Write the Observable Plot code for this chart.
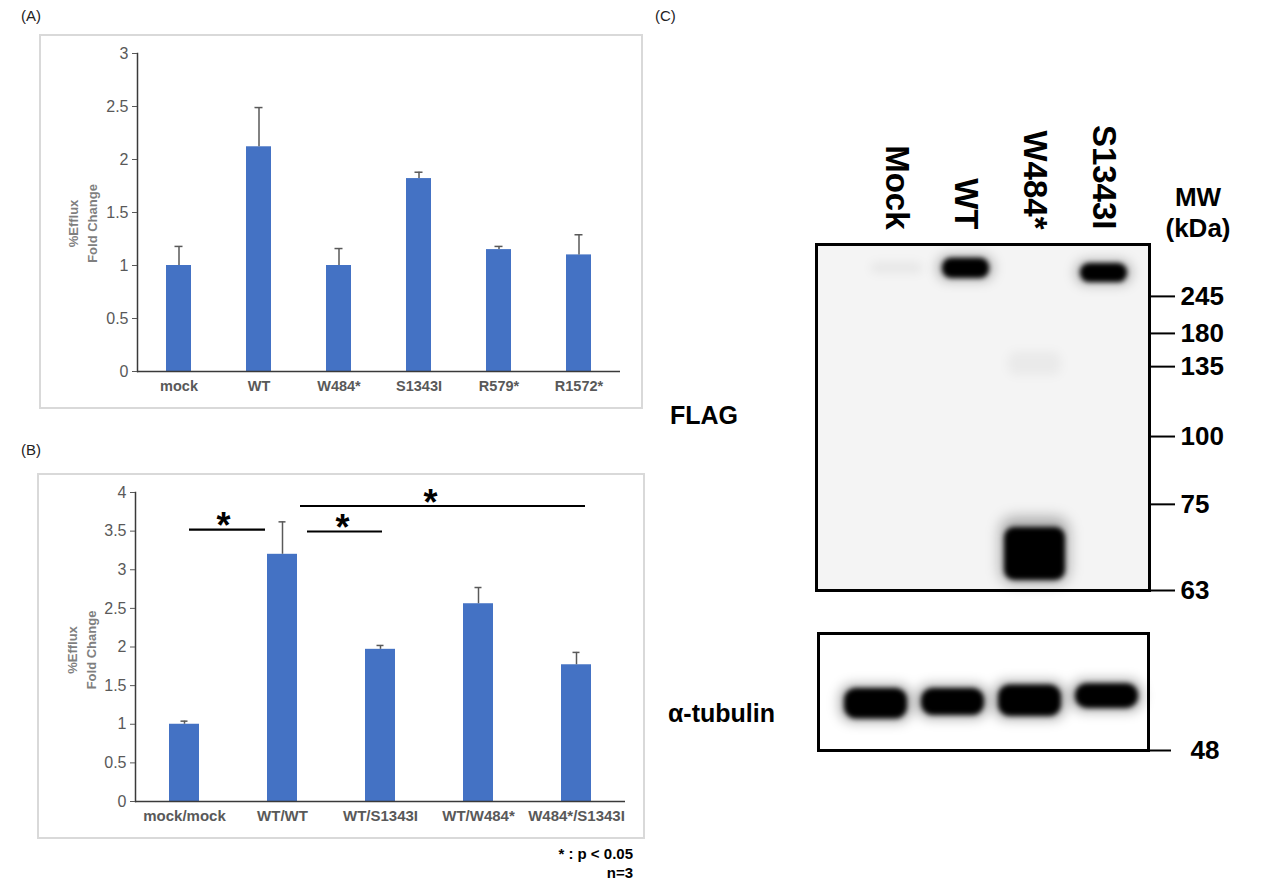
<!DOCTYPE html>
<html>
<head>
<meta charset="utf-8">
<script src="https://cdn.jsdelivr.net/npm/d3@7"></script>
<script src="https://cdn.jsdelivr.net/npm/@observablehq/plot@0.6"></script>
<style>
  body { margin: 0; background: #fff; font-family: "Liberation Sans", Arial, Helvetica, sans-serif; }
  #page { position: relative; width: 1287px; height: 886px; overflow: hidden; background: #fff; }
  .abs { position: absolute; }
  .box { position: absolute; border: 2px solid #d9d9d9; box-sizing: border-box; }
  .lbl { position: absolute; white-space: nowrap; line-height: 1; }
</style>
</head>
<body>
<div id="page">
  <div class="box" style="left:39px;top:34px;width:604px;height:375px"></div>
  <div class="box" style="left:37px;top:473px;width:608px;height:366px"></div>
  <div id="plotA" class="abs" style="left:40px;top:35px"></div>
  <div id="plotB" class="abs" style="left:39px;top:475px"></div>
  <div id="flag" class="abs" style="left:760px;top:100px"></div>
  <div id="tub" class="abs" style="left:760px;top:620px"></div>
</div>
<script>
// ---------- Data ----------
// Panel A
const mutantsA = ["mock", "WT", "W484*", "S1343I", "R579*", "R1572*"];
const effluxA  = [1.00, 2.12, 1.00, 1.82, 1.15, 1.10];
const errA     = [0.18, 0.37, 0.16, 0.06, 0.03, 0.19];
const yTicksA  = [0, 0.5, 1, 1.5, 2, 2.5, 3];

// Panel B
const pairsB  = ["mock/mock", "WT/WT", "WT/S1343I", "WT/W484*", "W484*/S1343I"];
const effluxB = [1.00, 3.20, 1.97, 2.56, 1.77];
const errB    = [0.04, 0.42, 0.05, 0.21, 0.16];
const yTicksB = [0, 0.5, 1, 1.5, 2, 2.5, 3, 3.5, 4];
const sigFrom  = ["mock/mock", "WT/WT", "WT/WT"];
const sigTo    = ["WT/WT", "WT/S1343I", "W484*/S1343I"];
const sigLevel = [3.52, 3.495, 3.825];

// Panel C (western blot): lanes, marker ladder (relative migration), bands
const lanes = ["Mock", "WT", "W484*", "S1343I"];
const markerKDa = [245, 180, 135, 100, 75, 63];
const markerRf  = [0.150, 0.257, 0.353, 0.555, 0.751, 1.0];
const flagLane    = ["WT", "S1343I", "W484*", "Mock", "W484*"];
const flagTop     = [0.040, 0.055, 0.818, 0.052, 0.310];
const flagBottom  = [0.098, 0.110, 0.971, 0.085, 0.380];
const flagDensity = [1, 1, 1, 0.05, 0.04];
const tubTop    = [0.47, 0.47, 0.44, 0.43];
const tubBottom = [0.73, 0.70, 0.71, 0.64];
const tubMarkerKDa = [48];
const tubMarkerRf  = [1.0];

// ---------- Styles ----------
const FONT = "'Liberation Sans', Arial, Helvetica, sans-serif";
const BAR = "#4472C4";
const AX = "#595959";
const yTitle = "%Efflux\nFold Change";

function effluxPanel({cats, vals, errs, yMax, yTicks, w, h, mL, mR, mT, mB, pad, capInset, titleDx, titleDy, xFont, extra = []}) {
  const rows = cats.map((c, i) => ({c, v: vals[i], top: vals[i] + errs[i]}));
  return Plot.plot({
    width: w, height: h, marginLeft: mL, marginRight: mR, marginTop: mT, marginBottom: mB,
    style: {fontFamily: FONT, background: "transparent", overflow: "visible"},
    x: {domain: cats, paddingInner: pad, paddingOuter: pad / 2, label: null},
    y: {domain: [0, yMax], label: null},
    marks: [
      Plot.barY(rows, {x: "c", y: "v", fill: BAR}),
      Plot.ruleX(rows, {x: "c", y1: "v", y2: "top", stroke: AX, strokeWidth: 1.5}),
      Plot.tickY(rows, {x: "c", y: "top", stroke: AX, strokeWidth: 1.5, insetLeft: capInset, insetRight: capInset}),
      Plot.ruleY([0], {stroke: "#3a3a3a", strokeWidth: 1.5}),
      Plot.frame({anchor: "left", stroke: "#3a3a3a", strokeWidth: 1.5}),
      Plot.axisY({ticks: yTicks, tickFormat: d => String(d), tickSize: 5, tickPadding: 4, fontSize: 16, color: AX, label: null}),
      Plot.axisX({tickSize: 0, tickPadding: 9, fontSize: xFont, fontWeight: "bold", color: AX, label: null}),
      Plot.text([yTitle], {frameAnchor: "left", textAnchor: "middle", lineAnchor: "middle", rotate: -90, dx: titleDx, dy: titleDy, lineHeight: 1.5, fontSize: 13, fontWeight: "bold", fill: "#7f7f7f"}),
      ...extra
    ]
  });
}

// Panel A
document.getElementById("plotA").appendChild(effluxPanel({
  cats: mutantsA, vals: effluxA, errs: errA, yMax: 3, yTicks: yTicksA,
  w: 602, h: 373, mL: 97, mR: 22, mT: 18, mB: 37, pad: 0.69, capInset: 8.5,
  titleDx: -56, titleDy: 11, xFont: 14.5
}));

// Panel B with significance brackets
const sigRows = sigFrom.map((a, i) => ({a, b: sigTo[i], y: sigLevel[i]}));
const sigTrim = [[20, 32], [40, 13], [33, 6]];
const starShift = [39, 60, 148];
const sigMarks = [
  ...sigRows.map((d, i) => Plot.ruleY([d], {x1: "a", x2: "b", y: "y", stroke: "#000", strokeWidth: 2.2, insetLeft: sigTrim[i][0], insetRight: sigTrim[i][1]})),
  ...sigRows.map((d, i) => Plot.text([d], {x: "a", y: "y", text: () => "*", dx: starShift[i], dy: -3, fontSize: 36, fontWeight: "bold", fill: "#000"}))
];
document.getElementById("plotB").appendChild(effluxPanel({
  cats: pairsB, vals: effluxB, errs: errB, yMax: 4, yTicks: yTicksB,
  w: 604, h: 362, mL: 96, mR: 18, mT: 17, mB: 36, pad: 0.694, capInset: 11.5,
  titleDx: -55, titleDy: 3, xFont: 15, extra: sigMarks
}));

// Panel C: FLAG blot
const flagRows = flagLane.map((lane, i) => ({lane, top: flagTop[i], bottom: flagBottom[i], d: flagDensity[i]}));
const strong = flagRows.filter(r => r.d > 0.5);
const highMW = strong.filter(r => r.top < 0.5);
const lowMW = strong.filter(r => r.top >= 0.5);
const faint = flagRows.filter(r => r.d <= 0.5);
const kdaByRf = new Map(markerRf.map((r, i) => [r, markerKDa[i]]));

const flagPlot = Plot.plot({
  width: 527, height: 512, marginLeft: 56, marginRight: 138, marginTop: 144, marginBottom: 22,
  style: {fontFamily: FONT, background: "transparent", overflow: "visible"},
  x: {domain: lanes, paddingInner: 0, paddingOuter: 0.396, align: 0.8, axis: null},
  y: {domain: [0, 1], reverse: true},
  opacity: {type: "identity"},
  marks: [
    Plot.frame({fill: "#f4f4f4", stroke: null}),
    Plot.barY(faint, {x: "lane", y1: "top", y2: "bottom", fill: "#000", fillOpacity: "d", insetLeft: 8, insetRight: 8, rx: 8, imageFilter: "blur(5px)", ariaLabel: "faint"}),
    Plot.barY(highMW, {x: "lane", y1: "top", y2: "bottom", fill: "#000", fillOpacity: 0.25, insetLeft: 6, insetRight: 6, insetTop: -3, insetBottom: -3, rx: 12, imageFilter: "blur(6px)", ariaLabel: "halo"}),
    Plot.barY(lowMW, {x: "lane", y1: "top", y2: "bottom", fill: "#000", fillOpacity: 0.3, insetLeft: 0, insetRight: 0, insetTop: -10, insetBottom: -4, rx: 14, imageFilter: "blur(7px)", ariaLabel: "halo"}),
    Plot.barY(highMW, {x: "lane", y1: "top", y2: "bottom", fill: "#000", insetLeft: 11, insetRight: 11, rx: 9, imageFilter: "blur(2.5px)", ariaLabel: "band"}),
    Plot.barY(lowMW, {x: "lane", y1: "top", y2: "bottom", fill: "#000", insetLeft: 4, insetRight: 4, rx: 10, imageFilter: "blur(2.5px)", ariaLabel: "band"}),
    Plot.frame({stroke: "#000", strokeWidth: 3}),
    Plot.axisY({anchor: "right", ticks: markerRf, tickFormat: d => kdaByRf.get(d), tickSize: 25, tickPadding: 6, fontSize: 26, fontWeight: "bold", strokeWidth: 2, color: "#000", label: null}),
    Plot.text(lanes, {x: d => d, text: d => d, frameAnchor: "top", rotate: 90, textAnchor: "end", lineAnchor: "middle", dy: -15, fontSize: 33, fontWeight: "bold", fill: "#000"})
  ]
});
document.getElementById("flag").appendChild(flagPlot);

// Panel C: alpha-tubulin blot
const tubRows = lanes.map((lane, i) => ({lane, top: tubTop[i], bottom: tubBottom[i]}));
const tubKdaByRf = new Map(tubMarkerRf.map((r, i) => [r, tubMarkerKDa[i]]));
const tubPlot = Plot.plot({
  width: 527, height: 150, marginLeft: 58, marginRight: 139, marginTop: 13, marginBottom: 20,
  style: {fontFamily: FONT, background: "transparent", overflow: "visible"},
  x: {domain: lanes, paddingInner: 0, paddingOuter: 0.129, align: 0.85, axis: null},
  y: {domain: [0, 1], reverse: true},
  marks: [
    Plot.barY(tubRows, {x: "lane", y1: "top", y2: "bottom", fill: "#000", fillOpacity: 0.3, insetLeft: 2, insetRight: 2, insetTop: -4, insetBottom: -4, rx: 14, imageFilter: "blur(6px)", ariaLabel: "halo"}),
    Plot.barY(tubRows, {x: "lane", y1: "top", y2: "bottom", fill: "#000", insetLeft: 7, insetRight: 7, rx: 12, imageFilter: "blur(2.5px)", ariaLabel: "band"}),
    Plot.frame({stroke: "#000", strokeWidth: 3}),
    Plot.axisY({anchor: "right", ticks: tubMarkerRf, tickFormat: d => tubKdaByRf.get(d), tickSize: 22, tickPadding: 20, fontSize: 26, fontWeight: "bold", strokeWidth: 2, color: "#000", label: null})
  ]
});
document.getElementById("tub").appendChild(tubPlot);

// fallback: make sure the blot bands are blurred even if imageFilter is unsupported
const blurByLabel = {band: "blur(2.5px)", halo: "blur(6px)", faint: "blur(5px)"};
for (const svg of [flagPlot, tubPlot]) {
  svg.querySelectorAll("g").forEach(g => {
    const key = g.getAttribute("aria-label");
    if (key in blurByLabel) g.style.filter = blurByLabel[key];
  });
}

// ---------- Text labels ----------
const page = document.getElementById("page");
function label(text, x, y, size, weight, anchor = "start", color = "#000") {
  const d = document.createElement("div");
  d.className = "lbl";
  d.textContent = text;
  d.style.left = x + "px";
  d.style.top = y + "px";
  d.style.fontSize = size + "px";
  d.style.fontWeight = weight;
  d.style.color = color;
  const tx = anchor === "middle" ? "-50%" : anchor === "end" ? "-100%" : "0";
  d.style.transform = `translate(${tx},-50%)`;
  page.appendChild(d);
}
label("(A)", 21, 15, 15, "normal", "start", "#222");
label("(B)", 21, 449, 15, "normal", "start", "#222");
label("(C)", 655, 15, 15, "normal", "start", "#222");
label("FLAG", 670, 415, 25, "bold");
label("α-tubulin", 668, 713, 25, "bold");
label("MW", 1198, 197, 26, "bold", "middle");
label("(kDa)", 1198, 228, 26, "bold", "middle");
label("* : p < 0.05", 633, 853, 15, "bold", "end");
label("n=3", 633, 872, 15, "bold", "end");
</script>
</body>
</html>
